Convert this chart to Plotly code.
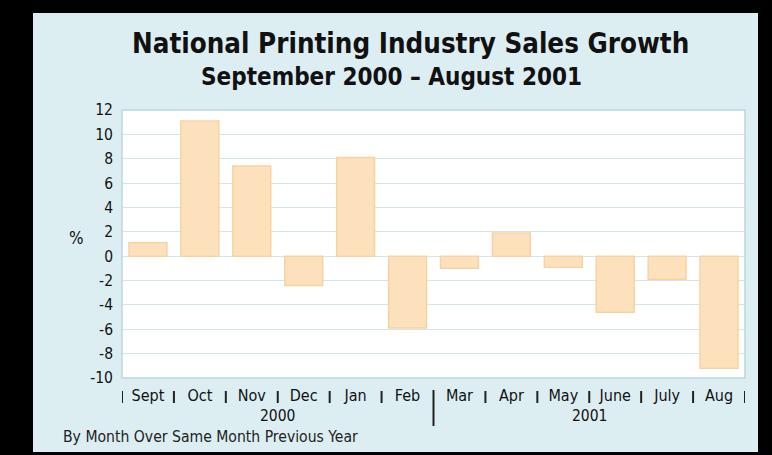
import plotly.graph_objects as go

months = ["Sept", "Oct", "Nov", "Dec", "Jan", "Feb", "Mar", "Apr", "May", "June", "July", "Aug"]
growth = [1.1, 11.1, 7.4, -2.4, 8.1, -5.9, -1.0, 1.9, -0.9, -4.6, -1.9, -9.2]
years = ["2000", "2001"]
y_ticks = [12, 10, 8, 6, 4, 2, 0, -2, -4, -6, -8, -10]

NARROW = "Liberation Sans Narrow, Arial Narrow, DejaVu Sans Condensed, sans-serif"

W, H = 772, 455
L, R, T, B = 122, 27, 110, 77
pw, ph = W - L - R, H - T - B

def px(x):
    return (x - L) / pw

def py(y):
    return (H - B - y) / ph

fig = go.Figure()
fig.add_trace(go.Bar(
    x=list(range(len(months))), y=growth, width=0.73,
    marker=dict(color="#FCE1BC", line=dict(color="#F7D3A2", width=1.5)),
    hoverinfo="x+y",
))

shapes = []
# light blue panel
shapes.append(dict(type="rect", xref="paper", yref="paper", layer="below",
                   x0=px(33), x1=px(758), y0=py(452), y1=py(13),
                   fillcolor="#DDEEF3", line=dict(width=0)))
# white plot area
shapes.append(dict(type="rect", xref="paper", yref="paper", layer="below",
                   x0=0, x1=1, y0=0, y1=1, fillcolor="#FFFFFF", line=dict(width=0)))
# plot border
shapes.append(dict(type="rect", xref="paper", yref="paper", layer="above",
                   x0=0, x1=1, y0=0, y1=1, line=dict(color="#B9D9DF", width=1.5)))
# separators between months
for i in range(len(months) + 1):
    b = i - 0.5
    if i == 6:
        shapes.append(dict(type="line", xref="x", yref="paper", x0=b, x1=b,
                           y0=py(390), y1=py(426), line=dict(color="#222", width=2)))
    else:
        shapes.append(dict(type="line", xref="x", yref="paper", x0=b, x1=b,
                           y0=py(391), y1=py(403), line=dict(color="#222", width=2)))

annotations = []
annotations.append(dict(text="<b>National Printing Industry Sales Growth</b>", xref="paper", yref="paper",
                        x=px(410), y=py(43), showarrow=False, xanchor="center", yanchor="middle",
                        font=dict(family=NARROW, size=27.5, color="#111")))
annotations.append(dict(text="<b>September 2000 – August 2001</b>", xref="paper", yref="paper",
                        x=px(391), y=py(77), showarrow=False, xanchor="center", yanchor="middle",
                        font=dict(family=NARROW, size=24, color="#111")))
annotations.append(dict(text="%", xref="paper", yref="paper", x=px(76), y=py(238),
                        showarrow=False, xanchor="center", yanchor="middle",
                        font=dict(family=NARROW, size=17, color="#111")))
for j, yr in enumerate(years):
    annotations.append(dict(text=yr, xref="x", yref="paper", x=2.5 + 6 * j, y=py(416),
                            showarrow=False, xanchor="center", yanchor="middle",
                            font=dict(family=NARROW, size=15.5, color="#111")))
annotations.append(dict(text="By Month Over Same Month Previous Year", xref="paper", yref="paper",
                        x=px(61), y=py(437), showarrow=False, xanchor="left", yanchor="middle",
                        font=dict(family=NARROW, size=15.6, color="#222")))

fig.update_layout(
    width=W, height=H,
    margin=dict(l=L, r=R, t=T, b=B, pad=0),
    paper_bgcolor="#000000",
    plot_bgcolor="#FFFFFF",
    showlegend=False,
    shapes=shapes,
    annotations=annotations,
    xaxis=dict(range=[-0.5, 11.5], tickmode="array", tickvals=list(range(len(months))),
               ticktext=months, showgrid=False, zeroline=False, showline=False,
               ticks="", ticklabelstandoff=6,
               tickfont=dict(family=NARROW, size=16, color="#111"), fixedrange=True),
    yaxis=dict(range=[-10, 12], tickmode="array", tickvals=y_ticks,
               ticktext=[str(v) for v in y_ticks], showgrid=True, gridcolor="#D4E6EA",
               gridwidth=1.2, zeroline=False, showline=False, ticks="", ticklabelstandoff=8,
               tickfont=dict(family=NARROW, size=15.5, color="#111"), fixedrange=True),
)

fig.write_html("out.html", config={"displayModeBar": False},
               post_script="document.body.style.margin='0';document.body.style.background='#000';")
